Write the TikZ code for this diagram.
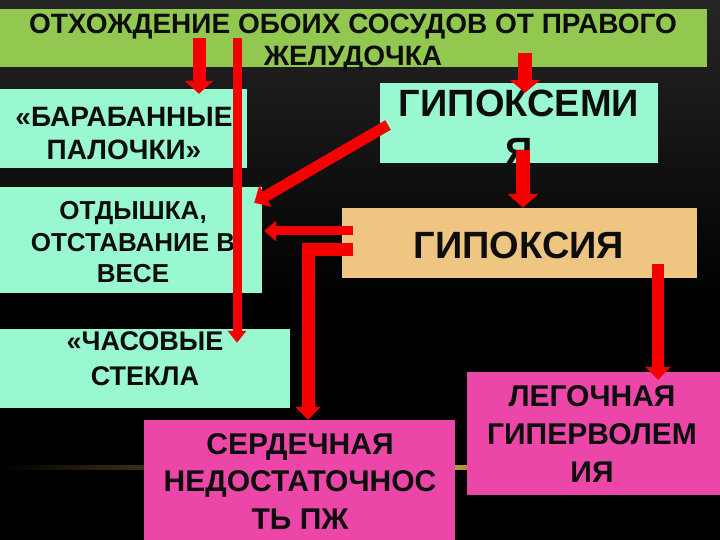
\documentclass[tikz,border=0pt]{standalone}
\usepackage{fontspec}
\setmainfont{Liberation Sans}
\usepackage{tikz}
\usetikzlibrary{arrows.meta, calc}
\definecolor{bangreen}{HTML}{92C850}
\definecolor{boxmint}{HTML}{99F8D0}
\definecolor{boxtan}{HTML}{EEC581}
\definecolor{boxpink}{HTML}{EC46A8}
\definecolor{arrred}{HTML}{F50000}
\definecolor{bgtop}{HTML}{262626}
\definecolor{glow}{HTML}{B89638}
\newcommand{\boxfont}[2]{\fontsize{#1bp}{#2bp}\selectfont\bfseries}

\begin{document}
\begin{tikzpicture}[x=1bp, y=-1bp,
  boxnode/.style={rectangle, inner sep=0pt, draw=none},
  boxtext/.style={align=center, inner sep=0pt, text=black!95},
  redarr/.style args={#1/#2/#3}{-{Triangle[width=#2, length=#3]}, arrred, line width=#1}
]
  \useasboundingbox (0,0) rectangle (720,540);
  \fill[top color=bgtop, bottom color=black] (0,0) rectangle (720,300);
  \fill[black] (0,300) rectangle (720,540);
  \fill[left color=black, right color=glow] (0,465) rectangle (455,469);
  \fill[left color=glow, right color=black] (455,465) rectangle (720,469);

  \node[boxnode, fill=bangreen, minimum width=707bp, minimum height=58bp] (banner) at (353.5,38) {};
  \node[boxnode, fill=boxmint, minimum width=247bp, minimum height=79bp] (barab) at (123.5,128.5) {};
  \node[boxnode, fill=boxmint, minimum width=278bp, minimum height=80bp] (hypemia) at (519,123) {};
  \node[boxnode, fill=boxmint, minimum width=262bp, minimum height=106bp] (otd) at (131,240) {};
  \node[boxnode, fill=boxtan, minimum width=355bp, minimum height=70bp] (hypoxia) at (519.5,243) {};
  \node[boxnode, fill=boxmint, minimum width=290bp, minimum height=79bp] (chas) at (145,368.5) {};
  \node[boxnode, fill=boxpink, minimum width=311bp, minimum height=125bp] (serd) at (299.5,482.5) {};
  \node[boxnode, fill=boxpink, minimum width=253bp, minimum height=123bp] (leg) at (593.5,433.5) {};

  \node[boxtext, font=\boxfont{28}{32}] (bantext) at (353,42.5) {ОТХОЖДЕНИЕ ОБОИХ СОСУДОВ ОТ ПРАВОГО\\ЖЕЛУДОЧКА};
  \node[boxtext, font=\boxfont{28}{33}] (barabtext) at (124,133.5) {«БАРАБАННЫЕ\\ПАЛОЧКИ»};
  \node[boxtext, font=\boxfont{38}{48.5}] (hypemiatext) at (519,127) {ГИПОКСЕМИ\\Я};
  \node[boxtext, font=\boxfont{26}{31.5}] (otdtext) at (133,242.5) {ОТДЫШКА,\\ОТСТАВАНИЕ В\\ВЕСЕ};
  \node[boxtext, font=\boxfont{38}{46}] (hypoxiatext) at (519,245) {ГИПОКСИЯ};
  \node[boxtext, font=\boxfont{27}{35}] (chastext) at (145,358.5) {«ЧАСОВЫЕ\\СТЕКЛА};
  \node[boxtext, font=\boxfont{30}{37.5}] (serdtext) at (300,481.5) {СЕРДЕЧНАЯ\\НЕДОСТАТОЧНОС\\ТЬ ПЖ};
  \node[boxtext, font=\boxfont{30}{38}] (legtext) at (592,434) {ЛЕГОЧНАЯ\\ГИПЕРВОЛЕМ\\ИЯ};

  \coordinate (a1) at (199,38);
  \coordinate (a2) at (237,38);
  \coordinate (a3) at (525,53);
  \coordinate (a4) at (523,150);
  \coordinate (a5) at (388,125);
  \coordinate (a6) at (353,231);
  \coordinate (a7) at (353,250);
  \coordinate (a7b) at (308,250);
  \coordinate (a8) at (658,264);

  \draw[redarr=13bp/28bp/13bp, shorten >=-5bp] (a1) -- (barab.north -| a1);
  \draw[redarr=9bp/18bp/12bp, shorten >=-14bp] (a2) -- (chas.north -| a2);
  \draw[redarr=14bp/30bp/13bp, shorten >=-10bp] (a3) -- (hypemia.north -| a3);
  \draw[redarr=14bp/30bp/14bp] (a4) -- (hypoxia.north -| a4);
  \draw[redarr=11bp/24bp/13bp] (a5) -- ([shift={(-8,16)}]otd.north east);
  \draw[redarr=9bp/20bp/12bp, shorten >=2bp] (a6) -- (otd.east |- a6);
  \draw[redarr=13bp/25bp/13bp] (a7) -- (a7b) -- (a7b |- serd.north);
  \draw[redarr=12bp/25bp/13bp, shorten >=-8bp] (a8) -- (leg.north -| a8);
\end{tikzpicture}
\end{document}
